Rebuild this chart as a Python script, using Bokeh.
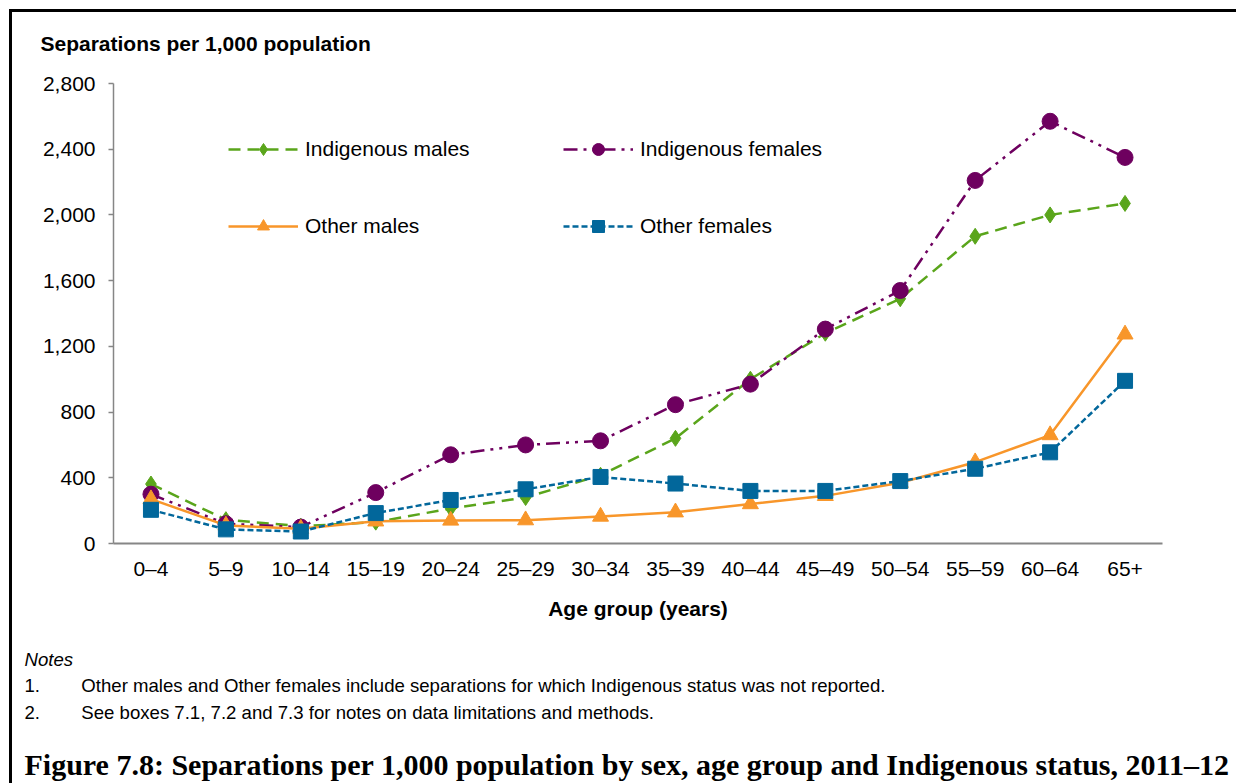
from bokeh.plotting import figure
from bokeh.models import (FactorRange, Range1d, Legend, LegendItem, Title,
                          NumeralTickFormatter, FixedTicker, InlineStyleSheet)
from bokeh.embed import file_html
from bokeh.resources import INLINE

# ---------------- data ----------------
age_groups = ["0–4", "5–9", "10–14", "15–19", "20–24", "25–29", "30–34",
              "35–39", "40–44", "45–49", "50–54", "55–59", "60–64", "65+"]
indigenous_males = [362, 145, 105, 130, 213, 280, 415, 640, 1000, 1280, 1490, 1870, 2000, 2070]
indigenous_females = [300, 120, 100, 310, 540, 600, 625, 845, 970, 1305, 1540, 2210, 2570, 2350]
other_males = [270, 110, 90, 135, 140, 142, 164, 190, 240, 290, 370, 495, 660, 1273]
other_females = [205, 86, 73, 185, 265, 330, 405, 365, 320, 320, 380, 455, 555, 990]
y_ticks = [0, 400, 800, 1200, 1600, 2000, 2400, 2800]

GREEN = "#5AA51B"
PURPLE = "#6E005F"
ORANGE = "#F8962A"
BLUE = "#02679B"
AXIS = "#868686"
FONT = "Liberation Sans"

p = figure(width=1236, height=783,
           x_range=FactorRange(factors=age_groups, range_padding=0),
           y_range=Range1d(0, 2800),
           output_backend="svg", toolbar_location=None,
           min_border_left=113, min_border_right=74,
           min_border_top=83, min_border_bottom=240)
p.xgrid.visible = False
p.ygrid.visible = False
p.outline_line_color = None
p.background_fill_alpha = 0
p.border_fill_alpha = 0

# box lines on the top and left of the whole chart area (figure host only)
p.css_classes = ["boxed"]
p.stylesheets = [InlineStyleSheet(css="""
:host(.boxed) {
  background:
    linear-gradient(#000, #000) 9px 9px / 3px 774px no-repeat,
    linear-gradient(#000, #000) 9px 9px / 1227px 3px no-repeat,
    #ffffff;
  overflow: hidden;
}
""")]

# y axis
ya = p.yaxis[0]
ya.ticker = FixedTicker(ticks=y_ticks)
ya.formatter = NumeralTickFormatter(format="0,0")
ya.axis_line_color = AXIS
ya.axis_line_width = 1.5
ya.major_tick_line_color = AXIS
ya.major_tick_line_width = 1.5
ya.major_tick_out = 5
ya.major_tick_in = 0
ya.minor_tick_line_color = None
ya.major_label_text_font = FONT
ya.major_label_text_font_size = "21px"
ya.major_label_text_color = "black"
ya.major_label_standoff = 13

# x axis
xa = p.xaxis[0]
xa.axis_line_color = AXIS
xa.axis_line_width = 2
xa.major_tick_line_color = None
xa.major_tick_out = 0
xa.major_tick_in = 0
xa.minor_tick_line_color = None
xa.major_label_text_font = FONT
xa.major_label_text_font_size = "21px"
xa.major_label_text_color = "black"
xa.major_label_standoff = 13
xa.axis_label = "Age group (years)"
xa.axis_label_text_font = FONT
xa.axis_label_text_font_size = "21px"
xa.axis_label_text_font_style = "bold"
xa.axis_label_text_color = "black"
xa.axis_label_standoff = 14

# series (drawing order as in the original)
r1 = p.line(age_groups, indigenous_males, line_color=GREEN, line_width=2.5, line_dash="12 7")
s1 = p.scatter(age_groups, indigenous_males, marker="diamond", size=16,
               fill_color=GREEN, line_color=GREEN)
r2 = p.line(age_groups, indigenous_females, line_color=PURPLE, line_width=2.5,
            line_dash="14 6 3 6 3 6")
s2 = p.scatter(age_groups, indigenous_females, marker="circle", size=16,
               fill_color=PURPLE, line_color=PURPLE)
r3 = p.line(age_groups, other_males, line_color=ORANGE, line_width=2.5)
s3 = p.scatter(age_groups, other_males, marker="triangle", size=16,
               fill_color=ORANGE, line_color=ORANGE)
r4 = p.line(age_groups, other_females, line_color=BLUE, line_width=2.5, line_dash="6 3")
s4 = p.scatter(age_groups, other_females, marker="square", size=15,
               fill_color=BLUE, line_color=BLUE)


def make_legend(items, loc):
    return Legend(items=items, location=loc, orientation="vertical",
                  glyph_width=70, glyph_height=30, label_height=30,
                  label_standoff=7, spacing=47, padding=0, margin=0,
                  border_line_color=None, background_fill_alpha=0,
                  label_text_font=FONT, label_text_font_size="21px",
                  label_text_color="black")


leg1 = make_legend([LegendItem(label="Indigenous males", renderers=[r1, s1]),
                    LegendItem(label="Other males", renderers=[r3, s3])], (115, 302))
leg2 = make_legend([LegendItem(label="Indigenous females", renderers=[r2, s2]),
                    LegendItem(label="Other females", renderers=[r4, s4])], (450, 302))
p.add_layout(leg1)
p.add_layout(leg2)


def title(text, place, offset, standoff, size, style="normal", font=FONT):
    t = Title(text=text, align="left", offset=offset, standoff=standoff,
              text_font=font, text_font_size=size, text_font_style=style,
              text_color="black")
    p.add_layout(t, place)


NB = "\u00a0"
# y axis title
title("Separations per 1,000 population", "above", -73, 57, "21px", "bold")

# notes and caption below the x axis (stacked outward in this order)
title(NB, "below", 0, 19, "2px")                      # spacing
title("Notes", "below", -89, 2, "18.6px", "italic")
title("1." + NB * 8 + "Other males and Other females include separations for which "
      "Indigenous status was not reported.", "below", -89, 4, "18.6px")
title("2." + NB * 8 + "See boxes 7.1, 7.2 and 7.3 for notes on data limitations and methods.",
      "below", -89, 4, "18.6px")
title(NB, "below", 0, 17, "2px")                      # spacing
title("Figure 7.8: Separations per 1,000 population by sex, age group and Indigenous status, 2011–12",
      "below", -89, 0, "30px", "bold", "Liberation Serif")

open("out.html", "w").write(file_html(p, INLINE))
